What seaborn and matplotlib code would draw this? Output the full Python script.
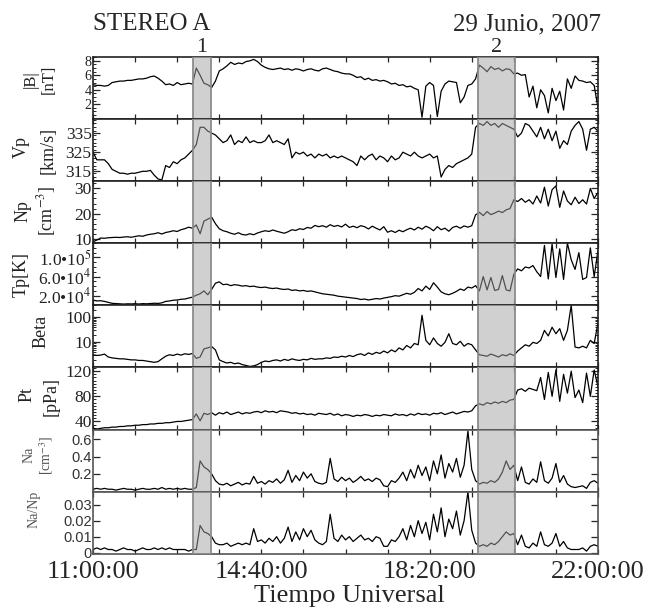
import numpy as np
import pandas as pd
import matplotlib
matplotlib.use("Agg")
import matplotlib.pyplot as plt
import matplotlib.ticker as mt
import seaborn as sns

sns.set_theme(style="ticks")
plt.rcParams['font.family'] = ['Liberation Serif', 'DejaVu Serif']
plt.rcParams['mathtext.fontset'] = 'stix'

# ---------------- data (5-minute samples from 11:00 UT) ----------------
STEP_MIN = 5

B = [4.7, 4.6, 4.6, 4.5, 4.6,
     5.0, 5.1, 5.2, 5.2, 5.3, 5.3, 5.4, 5.5, 5.5, 5.6,
     5.8, 5.9, 5.6, 5.2,
     4.7, 4.8, 4.6, 5.0, 4.7, 4.8, 4.9, 4.8,
     7.0, 6.0, 4.9, 4.7, 4.3,
     5.2, 6.6, 6.9, 7.3,
     7.8, 7.5, 7.7, 7.6, 7.9, 8.0, 8.2,
     7.9, 7.4, 7.1, 6.9, 6.8, 6.9, 7.0,
     6.8, 6.9, 6.7, 6.9, 6.8, 6.6, 6.8, 6.9, 6.7, 6.6,
     6.9, 7.0, 6.8, 6.6, 6.5, 6.3, 6.2, 6.2, 6.0,
     5.7, 5.8, 5.4, 5.6, 5.3, 5.4, 5.2, 5.3, 5.1,
     4.8, 4.9, 4.6, 4.7, 4.4, 4.5, 4.2, 4.0,
     0.2, 4.5, 5.0, 4.6, 0.3, 3.8, 4.8, 5.2, 5.1, 5.0, 2.2, 3.0, 4.6, 4.8, 5.5,
     7.4, 7.0, 6.5, 7.2, 6.8, 7.0, 6.6, 6.9, 6.8,
     6.2, 6.3, 6.0, 6.1,
     3.0, 4.5, 1.5, 4.0, 3.2, 0.8, 4.2, 2.5, 3.8, 1.2,
     5.5, 4.2, 5.9, 5.3, 5.2, 5.0, 5.1, 4.6,
     1.5]

VP = [325, 321, 321, 321, 319, 316, 315, 314, 314, 313.5,
      314, 314, 314.5, 315, 315, 315.5, 313, 311, 310.5, 318,
      317, 320, 319, 321, 322, 324, 326, 329, 338, 338,
      336, 335, 334, 332, 330, 331, 334, 329, 331, 330,
      333, 330, 331, 330, 330, 331, 334, 330, 331, 330,
      329, 332, 322, 325, 324, 325, 323, 324, 322, 324,
      323, 324, 322, 323, 322, 323, 322, 321, 320, 318,
      323, 321, 323, 324, 321, 323, 322, 320, 323, 321,
      322, 325, 324, 323, 325, 323, 322, 323, 324, 322,
      323, 312, 316, 318, 317, 319, 320, 321, 322, 324,
      338, 340, 339, 341, 339, 340, 338, 340, 339, 338,
      337, 333, 335, 340, 339, 336, 333, 338, 332, 337,
      331, 336, 327, 331, 329, 336, 339, 341, 337, 326,
      337, 338, 336]

NP = [8.8, 9.5, 10.3, 10.2, 10.4, 10.5, 10.6, 10.5, 10.7, 10.8,
      10.6, 10.9, 11.2, 11.0, 11.5, 11.8, 12.0, 12.4, 11.9, 12.5,
      12.8, 13.2, 12.9, 13.6, 14.0, 14.6, 14.2, 15.5, 12.0, 17.0,
      17.8, 18.6, 16.0, 14.0, 13.2, 12.8, 12.2, 11.8, 12.4, 11.7,
      11.5, 12.0, 11.6, 12.3, 12.8, 13.2, 12.9, 13.5, 13.0, 12.6,
      12.2, 12.8, 13.6, 13.3, 14.0, 13.7, 14.5, 14.2, 15.3, 14.8,
      15.2, 14.6, 15.6, 14.9, 15.3, 14.7, 15.8, 14.5, 15.0, 14.4,
      15.2, 14.8, 13.9, 15.0, 14.2, 13.5, 14.8, 12.6, 13.2, 12.5,
      13.4, 12.8, 13.6, 14.2, 13.5, 14.6, 13.8, 15.0, 14.3, 13.2,
      14.8, 13.6, 14.2, 13.0, 14.5, 15.0, 14.2, 15.1, 14.6, 15.2,
      19.5, 20.5, 19.2, 20.8, 19.6, 20.2, 21.0, 20.4, 21.5, 22.0,
      25.5, 24.8, 26.0, 24.5, 25.5, 23.8, 27.0, 24.2, 30.5, 23.0,
      29.5, 31.0, 22.5, 29.0, 25.0, 23.5, 26.5, 24.0, 25.5, 23.8,
      30.0, 26.0, 28.5]

TP = [11000, 9000, 9500, 8000, 6000, 4000, 3500, 3000, 2500, 3000,
      2800, 3200, 2600, 3400, 3000, 3600, 4200, 3800, 5000, 8000,
      9000, 10500, 11000, 12500, 13000, 15000, 17000, 21000, 24000, 30000,
      22000, 33000, 46000, 49000, 43000, 44000, 41000, 43000, 42000, 40000,
      41000, 39000, 40000, 38000, 37000, 38000, 36000, 35000, 36000, 34000,
      33000, 34000, 31000, 32000, 30000, 31000, 29000, 30000, 28000, 26000,
      24000, 23000, 22000, 21000, 19000, 18000, 17000, 16000, 15000, 14000,
      12000, 13000, 11000, 12500, 14000, 13000, 15000, 16500, 18000, 20000,
      19000, 22000, 25000, 23000, 27000, 35000, 30000, 40000, 33000, 47000,
      38000, 28000, 24000, 22000, 25000, 29000, 34000, 31000, 38000, 36000,
      41000, 30000, 60000, 32000, 58000, 31000, 33000, 62000, 32000, 30000,
      65000, 76000, 72000, 80000, 78000, 83000, 70000, 60000, 125000, 55000,
      128000, 58000, 118000, 54000, 130000, 95000, 75000, 110000, 54000, 58000,
      120000, 60000, 115000]

BETA = [3.2, 3.0, 3.1, 3.4, 2.6, 2.4, 2.3, 2.2, 2.2, 2.1,
        2.0, 2.0, 1.9, 1.9, 1.8, 1.7, 1.6, 1.7, 2.2, 2.8,
        3.2, 3.0, 3.4, 3.1, 3.5, 3.3, 3.6, 2.3, 2.6, 5.5,
        6.0, 6.8, 5.0, 2.0, 1.7, 1.5, 1.6, 1.4, 1.5, 1.3,
        1.2, 1.1, 1.15, 1.3, 1.6, 1.8, 1.7, 1.9, 2.0, 1.8,
        2.1, 1.9, 2.2, 2.0, 1.9, 2.1, 2.0, 2.3, 2.1, 2.2,
        2.2, 2.4, 2.3, 2.6, 2.5, 2.8, 2.6, 3.0, 2.7, 3.2,
        3.5, 3.0, 3.8, 3.3, 4.0, 3.6, 4.5, 3.8, 5.0, 4.2,
        6.0, 5.0, 7.5, 6.0, 9.0, 8.0, 120.0, 12.0, 8.0, 15.0,
        9.0, 7.0, 10.0, 22.0, 9.0, 8.0, 11.0, 7.0, 9.0, 8.0,
        5.0, 3.2, 3.0, 2.8, 3.4, 3.0, 2.6, 3.2, 2.9, 3.5,
        3.0, 4.5, 6.0, 8.0, 7.0, 10.0, 9.0, 12.0, 30.0, 18.0,
        40.0, 22.0, 35.0, 12.0, 30.0, 300.0, 6.5, 6.0, 7.0, 6.0,
        12.0, 9.0, 60.0]

PT = [29, 28, 29, 30, 30, 31, 31, 32, 32, 33,
      33, 34, 34, 35, 35, 36, 36, 37, 37, 38,
      38, 39, 40, 40, 41, 42, 43, 52, 41, 53,
      51, 54, 50, 54, 52, 55, 51, 53, 55, 52,
      54, 53, 55, 56, 54, 57, 55, 56, 54, 57,
      56, 55, 53, 54, 52, 53, 51, 52, 50, 53,
      52, 51, 53, 50, 52, 49, 51, 50, 48, 50,
      49, 51, 50, 48, 50, 49, 51, 50, 49, 52,
      50, 51, 49, 52, 50, 53, 51, 52, 50, 53,
      52, 54, 51, 53, 55, 52, 54, 56, 55, 57,
      65, 68, 66, 70, 68, 71, 69, 72, 70, 74,
      75, 90, 92, 88, 93, 91, 89, 110, 75, 118,
      80, 122, 72, 115, 85, 120, 78, 90, 70, 117,
      80, 122, 95]

NA = [0.02, 0.03, 0.02, 0.03, 0.02, 0.02, 0.01, 0.02, 0.03, 0.02,
      0.02, 0.01, 0.02, 0.03, 0.02, 0.02, 0.03, 0.02, 0.04, 0.02,
      0.03, 0.02, 0.03, 0.02, 0.03, 0.02, 0.02, 0.04, 0.35, 0.28,
      0.25, 0.20, 0.12, 0.08, 0.07, 0.09, 0.06, 0.08, 0.10, 0.07,
      0.09, 0.08, 0.17, 0.09, 0.11, 0.08, 0.12, 0.10, 0.14, 0.09,
      0.13, 0.24, 0.10, 0.18, 0.12, 0.22, 0.15, 0.20, 0.11, 0.09,
      0.08, 0.10, 0.38, 0.14, 0.11, 0.16, 0.12, 0.15, 0.10, 0.13,
      0.17, 0.12, 0.14, 0.11, 0.15, 0.13, 0.06, 0.05, 0.12, 0.10,
      0.15, 0.22, 0.12, 0.25, 0.15, 0.30, 0.18, 0.28, 0.12, 0.35,
      0.20, 0.42, 0.15, 0.32, 0.22, 0.38, 0.16, 0.30, 0.70, 0.25,
      0.12, 0.08, 0.10, 0.09, 0.12, 0.10, 0.14, 0.22, 0.35, 0.25,
      0.30, 0.12, 0.28, 0.10, 0.08, 0.14, 0.10, 0.34, 0.12, 0.09,
      0.15, 0.32, 0.10, 0.18, 0.08, 0.05, 0.04, 0.05, 0.06, 0.03,
      0.10, 0.12, 0.09]

NANP = [0.002, 0.003, 0.002, 0.003, 0.002, 0.002, 0.001, 0.002, 0.003, 0.002,
        0.002, 0.001, 0.002, 0.003, 0.002, 0.002, 0.003, 0.002, 0.003, 0.002,
        0.003, 0.002, 0.002, 0.002, 0.002, 0.001, 0.002, 0.002, 0.017, 0.013,
        0.012, 0.010, 0.006, 0.005, 0.005, 0.006, 0.004, 0.005, 0.006, 0.005,
        0.006, 0.005, 0.015, 0.007, 0.008, 0.006, 0.009, 0.007, 0.010, 0.006,
        0.009, 0.016, 0.007, 0.013, 0.008, 0.015, 0.010, 0.014, 0.008, 0.006,
        0.005, 0.007, 0.024, 0.009, 0.007, 0.011, 0.008, 0.010, 0.007, 0.009,
        0.011, 0.008, 0.009, 0.007, 0.010, 0.009, 0.004, 0.004, 0.008, 0.007,
        0.010, 0.015, 0.008, 0.017, 0.010, 0.020, 0.012, 0.019, 0.008, 0.024,
        0.013, 0.028, 0.010, 0.021, 0.015, 0.026, 0.011, 0.020, 0.038, 0.014,
        0.006, 0.004, 0.005, 0.004, 0.006, 0.005, 0.007, 0.010, 0.013, 0.011,
        0.012, 0.005, 0.011, 0.004, 0.003, 0.006, 0.004, 0.013, 0.005, 0.004,
        0.006, 0.012, 0.004, 0.007, 0.003, 0.002, 0.002, 0.002, 0.003, 0.001,
        0.004, 0.005, 0.004]

SHADES_MIN = [(131, 154), (503, 551)]
SHADE_LABELS = ["1", "2"]
X_TICKS_MIN = [0, 220, 440, 660]
X_TICK_LABELS = ["11:00:00", "14:40:00", "18:20:00", "22:00:00"]

series = [B, VP, NP, TP, BETA, PT, NA, NANP]
lens = [len(s) for s in series]
assert len(set(lens)) == 1, f"length mismatch {lens}"
t = np.arange(lens[0]) * STEP_MIN

# ---------------- layout ----------------
W, H = 646, 610
fig = plt.figure(figsize=(W / 100, H / 100), dpi=100)
L, R, T, BOT = 93, 598, 56.5, 554
n = 8
ph = (BOT - T) / n

panels = [
    dict(y=B, ylim=(0, 8.6), ticks=[2, 4, 6, 8], labels=["2", "4", "6", "8"], minor=0.5, fs=10.2),
    dict(y=VP, ylim=(310, 342.5), ticks=[315, 325, 335], labels=["315", "325", "335"], minor=2),
    dict(y=NP, ylim=(8.3, 33), ticks=[10, 20, 30], labels=["10", "20", "30"], minor=2),
    dict(y=TP, ylim=(0, 130000), ticks=[20000, 60000, 100000],
         labels=[r"2.0•10$^4$", r"6.0•10$^4$", r"1.0•10$^5$"], minor=10000),
    dict(y=BETA, ylim=(1, 300), ticks=[10, 100], labels=["10", "100"], minor=None, log=True),
    dict(y=PT, ylim=(27, 126), ticks=[40, 80, 120], labels=["40", "80", "120"], minor=5),
    dict(y=NA, ylim=(-0.01, 0.715), ticks=[0.2, 0.4, 0.6], labels=["0.2", "0.4", "0.6"],
         minor=None, sans=True),
    dict(y=NANP, ylim=(-0.0008, 0.038), ticks=[0, 0.01, 0.02, 0.03],
         labels=["0", "0.01", "0.02", "0.03"], minor=None, sans=True),
]

axes = []
for k, p in enumerate(panels):
    y0 = T + k * ph
    ax = fig.add_axes([L / W, 1 - (y0 + ph) / H, (R - L) / W, ph / H])
    axes.append(ax)
    sns.lineplot(x=t, y=p["y"], ax=ax, color="black", linewidth=0.9, legend=False)
    if p.get("log"):
        ax.set_yscale("log")
    ax.set_xlim(0, 660)
    ax.set_ylim(*p["ylim"])
    ax.set_xlabel("")
    ax.set_ylabel("")
    ax.set_yticks(p["ticks"])
    ax.set_yticklabels(p["labels"])
    if p.get("log"):
        ax.yaxis.set_minor_locator(mt.LogLocator(base=10, subs=np.arange(2, 10)))
        ax.yaxis.set_minor_formatter(mt.NullFormatter())
    elif p["minor"]:
        ax.yaxis.set_minor_locator(mt.MultipleLocator(p["minor"]))
    else:
        ax.yaxis.set_minor_locator(mt.NullLocator())
    ax.xaxis.set_major_locator(mt.FixedLocator(X_TICKS_MIN))
    ax.xaxis.set_minor_locator(mt.MultipleLocator(55))
    ax.tick_params(axis="x", which="both", direction="in", top=True, bottom=True,
                   length=3.5, width=0.9, labelbottom=(k == n - 1))
    ax.tick_params(axis="y", which="major", direction="in", left=True, right=True,
                   length=5, width=0.9, pad=1)
    ax.tick_params(axis="y", which="minor", direction="in", left=True, right=True,
                   length=2.5, width=0.7)
    for sp in ax.spines.values():
        sp.set_linewidth(1.2)
        sp.set_color("#222222" if not p.get("sans") else "#555555")
    for lab in ax.get_yticklabels():
        if p.get("sans"):
            lab.set_fontfamily(["Liberation Sans", "DejaVu Sans"])
            lab.set_fontsize(10.5)
            lab.set_color("#333333")
        else:
            lab.set_fontsize(p.get("fs", 12.5))
            lab.set_color("#222222")
    for (a, b) in SHADES_MIN:
        ax.axvspan(a, b, facecolor=(0.64, 0.64, 0.64, 0.5),
                   edgecolor=(0.55, 0.55, 0.55), linewidth=1.3, zorder=5)
    ax.set_facecolor("white")

axb = axes[-1]
axb.set_xticklabels(X_TICK_LABELS)
for lab in axb.get_xticklabels():
    lab.set_fontsize(19)
axb.tick_params(axis="x", pad=5)

# ---------------- y labels ----------------
def ylab(x, y, s, size=13, color="#222222"):
    fig.text(x / W, 1 - y / H, s, rotation=90, ha="center", va="center",
             fontsize=size, color=color)

ylab(31, 79, "|B|", size=12)
ylab(49, 79, "[nT]", size=12)
ylab(21, 147, "Vp")
ylab(48, 150, "[km/s]")
ylab(23, 211, "Np")
ylab(47, 211, "[cm$^{-3}$]")
ylab(21, 275, "Tp[K]")
ylab(41, 331, "Beta")
ylab(27, 395, "Pt")
ylab(51, 397, "[pPa]")
ylab(29, 455, "Na", size=10, color="#555555")
ylab(46, 455, "[cm$^{-3}$]", size=10, color="#555555")
ylab(34, 509, "Na/Np", size=10, color="#555555")

# ---------------- titles ----------------
fig.text(152 / W, 1 - 30 / H, "STEREO A", ha="center", va="baseline", fontsize=18)
fig.text(527 / W, 1 - 30 / H, "29 Junio, 2007", ha="center", va="baseline", fontsize=18)
for (a, b), s in zip(SHADES_MIN, SHADE_LABELS):
    xc = L + (a + b) / 2 / 660 * (R - L)
    fig.text(xc / W, 1 - 52 / H, s, ha="center", va="baseline", fontsize=16)
fig.text(349 / W, 1 - 602 / H, "Tiempo Universal", ha="center", va="baseline", fontsize=19)

fig.savefig("out.png", dpi=100, facecolor="white")
